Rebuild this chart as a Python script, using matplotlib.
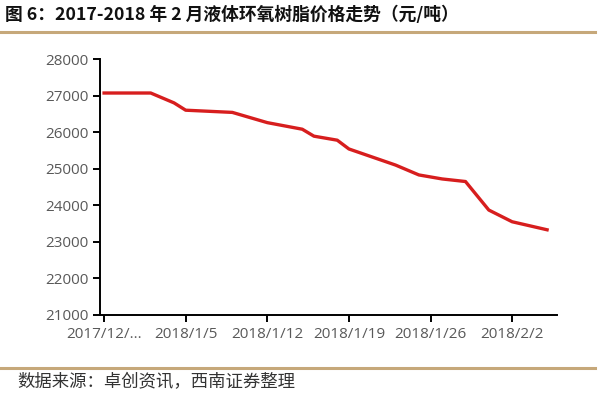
import matplotlib
matplotlib.use("Agg")
import matplotlib.pyplot as plt
from matplotlib.lines import Line2D

plt.rcParams['font.family'] = ['Open Sans', 'Noto Sans CJK SC', 'DejaVu Sans']

# day offsets from 2017/12/29
days = [0, 4, 6, 7, 11, 14, 17, 18, 20, 21, 24, 25, 27, 29, 31, 33, 35, 38]
prices = [27070, 27070, 26800, 26600, 26540, 26260, 26080, 25890, 25780, 25540,
          25210, 25100, 24830, 24720, 24650, 23870, 23550, 23330]
tick_days = [0, 7, 14, 21, 28, 35]
tick_labels = ["2017/12/...", "2018/1/5", "2018/1/12", "2018/1/19", "2018/1/26", "2018/2/2"]
yticks = [21000, 22000, 23000, 24000, 25000, 26000, 27000, 28000]

title = "图 6：2017-2018 年 2 月液体环氧树脂价格走势（元/吨）"
source = "数据来源：卓创资讯，西南证券整理"

fig = plt.figure(figsize=(6.0, 3.94), dpi=100)
ax = fig.add_axes([100/600, 1-315/394, 457/600, (315-59)/394])

ax.plot(days, prices, color='#d71e1e', linewidth=2.4, solid_joinstyle='round')
ax.set_xlim(-0.35, 38.85)
ax.set_ylim(21000, 28000)
ax.set_yticks(yticks)
ax.set_yticklabels([str(v) for v in yticks])
ax.set_xticks(tick_days)
ax.set_xticklabels(tick_labels)
for s in ['top', 'right']:
    ax.spines[s].set_visible(False)
for s in ['left', 'bottom']:
    ax.spines[s].set_linewidth(1.4)
    ax.spines[s].set_color('black')
ax.tick_params(axis='both', direction='out', length=5, width=1.4, colors='black',
               labelcolor='#595959', labelsize=11)
ax.tick_params(axis='x', pad=4)
ax.tick_params(axis='y', pad=3)

fig.text(5/600, 1-15/394, title, fontsize=12.8, fontweight='bold',
         family=['Noto Sans CJK SC', 'DejaVu Sans'], va='center', ha='left', color='#111111')
fig.add_artist(Line2D([0, 0.992], [1-32/394, 1-32/394], color='#c6a87a', linewidth=2.2,
                      transform=fig.transFigure))
fig.add_artist(Line2D([0, 0.992], [1-368/394, 1-368/394], color='#c6a87a', linewidth=2.2,
                      transform=fig.transFigure))
fig.text(17/600, 1-382/394, source, fontsize=12.5, family=['Noto Sans CJK SC', 'DejaVu Sans'],
         va='center', ha='left', color='#333333', style='italic')

fig.savefig("out.png", dpi=100, facecolor='white')
